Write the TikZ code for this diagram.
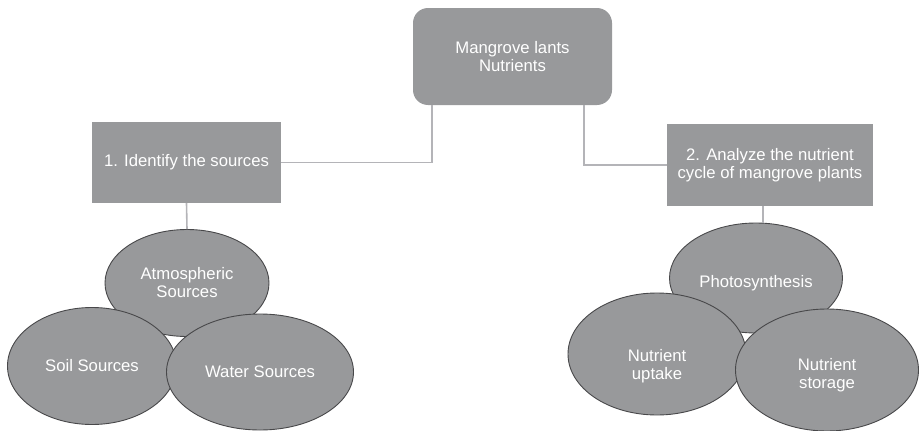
\documentclass[tikz,border=0pt]{standalone}
\usepackage{fontspec}
\setmainfont{Liberation Sans}
\usepackage{tikz}
\usetikzlibrary{shapes.geometric}
\definecolor{boxgray}{RGB}{152, 153, 155}
\definecolor{rimgray}{RGB}{72, 72, 74}
\definecolor{linkgray}{RGB}{180, 180, 184}

\begin{document}
\begin{tikzpicture}[x=1pt, y=-1pt,
  every node/.style={text=white, font=\fontsize{16.7}{18}\selectfont, align=center},
  block/.style={fill=boxgray, draw=none, inner sep=0pt},
  blob/.style={ellipse, fill=boxgray, draw=rimgray, line width=0.9pt, inner sep=0pt},
  link/.style={draw=linkgray, line width=1.6pt}]

\useasboundingbox (0, 0) rectangle (919, 431);

\node[block, rounded corners=15pt, minimum width=199pt, minimum height=97pt] (top) at (512.5, 56.5) {Mangrove lants\\Nutrients};
\node[block, minimum width=189pt, minimum height=81pt] (idf) at (186.5, 162.5) {1. Identify the sources};
\node[block, minimum width=206pt, minimum height=82pt] (ana) at (770, 165) {2. Analyze the nutrient\\cycle of mangrove plants};

% sources
\node[blob, minimum width=164pt, minimum height=107pt] (atm) at (187, 283) {Atmospheric\\Sources};
\node[blob, minimum width=169pt, minimum height=117pt] (soil) at (92, 366) {Soil Sources};
\node[blob, minimum width=187pt, minimum height=116pt] (water) at (260, 372) {Water Sources};

% cycle
\node[blob, minimum width=173pt, minimum height=110pt, text height=22pt] (pho) at (756, 278) {Photosynthesis};
\node[blob, minimum width=178pt, minimum height=122pt, text height=54pt] (upt) at (657, 354) {Nutrient\\uptake};
\node[blob, minimum width=183pt, minimum height=122pt, text height=40pt] (sto) at (827, 370) {Nutrient\\storage};

\draw[link] ([xshift=19pt]top.south west) |- (idf.east);
\draw[link] ([xshift=-28pt]top.south east) |- (ana.west);
\draw[link] (idf.south) -- (atm.north);
\draw[link] ([xshift=-7pt]ana.south) -- ([xshift=7pt]pho.north);
\end{tikzpicture}
\end{document}
